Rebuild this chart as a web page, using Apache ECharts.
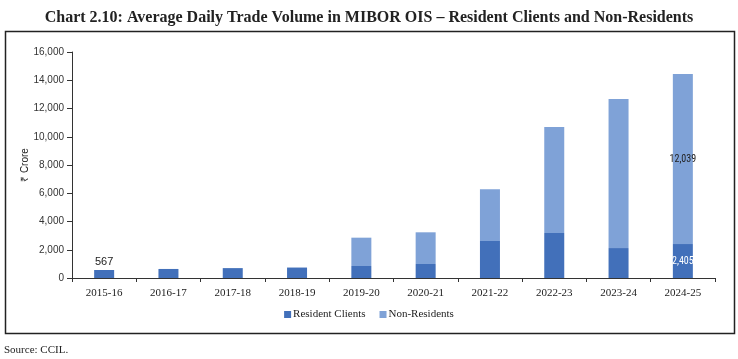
<!DOCTYPE html>
<html>
<head>
<meta charset="utf-8">
<script src="https://cdn.jsdelivr.net/npm/echarts@6/dist/echarts.min.js"></script>
<style>
html,body{margin:0;padding:0;background:#fff;}
#c{width:738px;height:359px;}
</style>
</head>
<body>
<div id="c"></div>
<script>
const categories = ['2015-16','2016-17','2017-18','2018-19','2019-20','2020-21','2021-22','2022-23','2023-24','2024-25'];
const residentClients = [567, 640, 700, 740, 850, 990, 2620, 3190, 2120, 2405];
const nonResidents = [0, 0, 0, 0, 2005, 2245, 3660, 7500, 10550, 12039];
const yTicks = [0, 2000, 4000, 6000, 8000, 10000, 12000, 14000, 16000];

const fmt = v => v.toLocaleString('en-US');
const narrow = '"Liberation Sans Narrow", "Roboto Condensed", "DejaVu Sans Condensed", sans-serif';

const resData = residentClients.map((v, i) => {
  const d = { value: v };
  if (i === 0) d.label = { show: true, position: 'top', color: '#222', fontSize: 11, fontFamily: 'Liberation Sans', distance: 3, formatter: p => fmt(p.value) };
  if (i === 9) d.label = { show: true, position: 'inside', color: '#fff', fontSize: 10, fontFamily: narrow, formatter: p => fmt(p.value) };
  return d;
});
const nonData = nonResidents.map((v, i) => {
  const d = { value: v };
  if (i === 9) d.label = { show: true, position: 'inside', color: '#222', fontSize: 10, fontFamily: narrow, formatter: p => fmt(p.value) };
  return d;
});

const chart = echarts.init(document.getElementById('c'), null, { renderer: 'canvas' });
chart.setOption({
  animation: false,
  backgroundColor: '#fff',
  title: {
    text: 'Chart 2.10: Average Daily Trade Volume in MIBOR OIS – Resident Clients and Non-Residents',
    left: 'center', top: 5,
    textStyle: { fontFamily: 'Liberation Serif', fontSize: 16, fontWeight: 'bold', color: '#222' }
  },
  graphic: [
    { type: 'rect', shape: { x: 5.5, y: 31.5, width: 729, height: 302 }, style: { fill: 'none', stroke: '#222', lineWidth: 1.5 }, z: -1 },
    { type: 'text', left: 4, top: 345, style: { text: 'Source: CCIL.', font: '11px "Liberation Serif"', fill: '#222' } }
  ],
  legend: {
    bottom: 34, left: 'center',
    itemWidth: 7, itemHeight: 7, itemGap: 14,
    icon: 'rect',
    textStyle: { fontFamily: 'Liberation Serif', fontSize: 11, color: '#222', padding: [0, 0, 0, -3] },
    data: ['Resident Clients', 'Non-Residents']
  },
  grid: { left: 72, right: 23, top: 52, bottom: 81 },
  xAxis: {
    type: 'category',
    data: categories,
    axisLine: { lineStyle: { color: '#333', width: 1 } },
    axisTick: { show: true, length: 4, lineStyle: { color: '#333' } },
    axisLabel: { fontFamily: 'Liberation Serif', fontSize: 11, color: '#222', margin: 10 }
  },
  yAxis: {
    type: 'value', min: 0, max: 16000, interval: 2000,
    name: '₹ Crore', nameLocation: 'middle', nameGap: 42, nameRotate: 90, nameMoveOverlap: false,
    nameTextStyle: { fontFamily: 'Liberation Sans', fontSize: 10, color: '#222' },
    axisLine: { show: true, lineStyle: { color: '#333', width: 1 } },
    axisTick: { show: true, length: 5, lineStyle: { color: '#333' } },
    splitLine: { show: false },
    axisLabel: { fontFamily: 'Liberation Sans', fontSize: 10, color: '#333', margin: 8,
      formatter: v => yTicks.includes(v) ? fmt(v) : '' }
  },
  series: [
    { name: 'Resident Clients', type: 'bar', stack: 'a', data: resData, barWidth: 20,
      itemStyle: { color: '#4270BA' } },
    { name: 'Non-Residents', type: 'bar', stack: 'a', data: nonData, barWidth: 20,
      itemStyle: { color: '#7FA2D7' } }
  ]
});
</script>
</body>
</html>
